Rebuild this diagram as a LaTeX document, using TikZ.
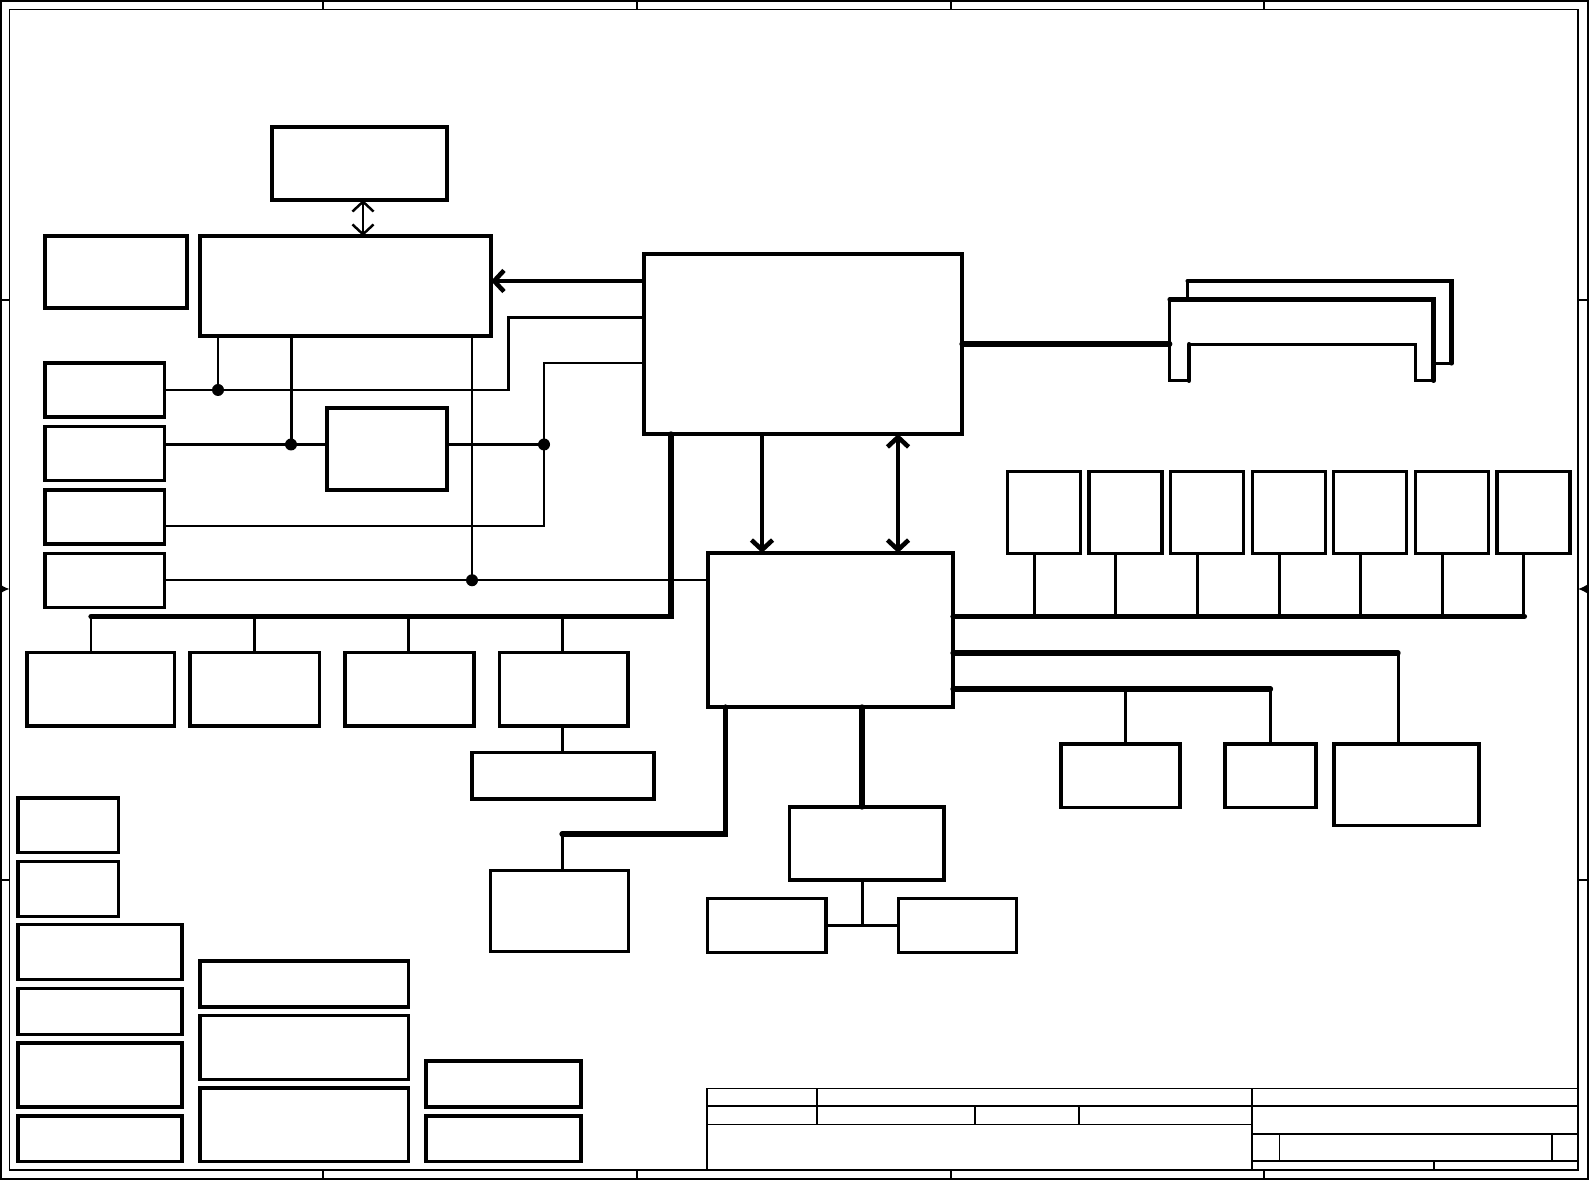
\documentclass[tikz,border=0pt]{standalone}
\usetikzlibrary{arrows.meta}
\begin{document}
\begin{tikzpicture}[x=0.01cm,y=-0.01cm,
  blk/.style 2 args={draw,line width=0.9pt,inner sep=0pt,outer sep=0pt,
    minimum width=#1*0.01cm,minimum height=#2*0.01cm},
  frm/.style={line width=0.45pt},
  wire/.style={line width=0.7pt},
  mwire/.style={line width=0.85pt},
  rail/.style={line width=1.3pt,line cap=round},
  bus/.style={line width=1.5pt,line cap=round},
  barb/.style={line width=1.3pt},
  >={Straight Barb[length=2.8pt,width=6pt]}]
  \useasboundingbox (0,0) rectangle (1589,1180);
  \draw[frm] (1,1) rectangle (1588,1179);
  \draw[frm] (9.5,9.5) rectangle (1578,1170);
  \foreach \x in {323,637,951,1264}{
    \draw[frm] (\x,1) -- (\x,9.5);
    \draw[frm] (\x,1170) -- (\x,1179);}
  \foreach \y in {300,880}{
    \draw[frm] (1,\y) -- (9.5,\y);
    \draw[frm] (1578,\y) -- (1588,\y);}
  \draw[frm,-{Latex[length=3pt,width=3pt]}] (1,589) -- (9.5,589);
  \draw[frm,-{Latex[length=3pt,width=3pt]}] (1588,589) -- (1578,589);
  \draw[frm] (707,1088.3) -- (1578,1088.3);
  \draw[frm] (707,1106) -- (1578,1106);
  \draw[frm] (707,1124.3) -- (1252,1124.3);
  \draw[frm] (707,1088.3) -- (707,1170);
  \draw[frm] (1252,1088.3) -- (1252,1170);
  \draw[frm] (816.7,1088.3) -- (816.7,1124.3);
  \draw[frm] (975,1106) -- (975,1124.3);
  \draw[frm] (1078.8,1106) -- (1078.8,1124.3);
  \draw[frm] (1252,1133.7) -- (1578,1133.7);
  \draw[frm] (1252,1160.7) -- (1578,1160.7);
  \draw[frm] (1279.5,1133.7) -- (1279.5,1160.7);
  \draw[frm] (1551.8,1133.7) -- (1551.8,1160.7);
  \draw[frm] (1433.7,1160.7) -- (1433.7,1170);

  \node[blk={175}{73}] (clk) at (359.5,163.5) {};
  \node[blk={291}{100}] (cpu) at (345.5,286) {};
  \node[blk={142}{72}] (therm) at (116,272) {};
  \foreach \n/\y in {pw1/390,pw2/453.5,pw3/517,pw4/580.25}
    \node[blk={119.5}{54}] (\n) at (104.75,\y) {};
  \node[blk={120}{82}] (fan) at (387,449) {};
  \node[blk={318}{180}] (nb) at (803,344) {};
  \node[blk={245}{154}] (sb) at (830.5,630) {};
  \foreach \n/\x/\w in {gpu/100.75/147.5,lan/254.75/129.5,card/409.5/129,mini/563.75/128.5}
    \node[blk={\w}{73.5}] (\n) at (\x,689.25) {};
  \node[blk={182}{46.5}] (slot) at (563,775.75) {};
  \foreach \i in {1,...,7}
    \node[blk={73}{82}] (usb\i) at ({1043.8+81.6*(\i-1)},512.5) {};
  \node[blk={119}{63.5}] (audio) at (1120.5,775.75) {};
  \node[blk={91}{63.5}] (sata) at (1270.5,775.75) {};
  \node[blk={145}{81.5}] (ide) at (1406.5,784.75) {};
  \node[blk={138}{81}] (kbc) at (559.4,911) {};
  \node[blk={154.7}{73}] (codec) at (866.65,843.5) {};
  \node[blk={118.3}{54}] (amp) at (766.85,925.5) {};
  \node[blk={118.3}{54}] (jack) at (957.45,925.5) {};
  \foreach \n/\x/\y/\w/\h in {m1/68.35/825.25/100.7/54.5,m2/68.35/889/100.7/55,
      m3/100/952/164/55,m4/100/1011.5/164/46,m5/100/1075/164/64,m6/100/1138.75/164/45.5,
      m7/304.35/984/208.7/46,m8/304.35/1047.5/208.7/64,m9/304.35/1124.65/208.7/73.3,
      m10/503.5/1084/155/46,m11/503.5/1138.75/155/45.5}
    \node[blk={\w}{\h}] (\n) at (\x,\y) {};

  \draw[wire,<->] (clk.south) ++(3.5,0) -- ++(0,36);
  \draw[barb,->] (nb.west |- 0,281) -- (cpu.east |- 0,281);
  \draw[wire] (nb.west |- 0,317.5) -| (508.5,390) -- (pw1.east);
  \draw[wire] (cpu.south -| 218,0) -- (218,390);
  \fill (218,390) circle[radius=0.06cm];
  \draw[wire] (nb.west |- 0,363) -| (544,526) -- (pw3.east |- 0,526);
  \draw[mwire] (pw2.east |- 0,444.5) -- (fan.west |- 0,444.5);
  \draw[mwire] (fan.east |- 0,444.5) -- (544,444.5);
  \draw[mwire] (cpu.south -| 291,0) -- (291,444.5);
  \fill (291,444.5) circle[radius=0.06cm];
  \fill (544,444.5) circle[radius=0.06cm];
  \draw[wire] (cpu.south -| 472,0) -- (472,580.25);
  \draw[wire] (pw4.east) -- (sb.west |- pw4.east);
  \fill (472,580.25) circle[radius=0.06cm];
  \draw[bus] (nb.south -| 671,0) |- (91,616.5);
  \foreach \n/\x in {gpu/91,lan/254,card/408,mini/562.5}
    \draw[mwire] (\x,616.5) -- (\n.north -| \x,0);
  \draw[mwire] (mini.south -| 562.5,0) -- (slot.north -| 562.5,0);
  \draw[barb,->] (nb.south -| 762,0) -- (sb.north -| 762,0);
  \draw[barb,<->] (nb.south -| 898,0) -- (sb.north -| 898,0);
  \coordinate (dimm) at (1169.7,344);
  \draw[bus] (nb.east) -- (dimm);
  \draw[wire] (1187.7,299.3) -- (1187.7,281);
  \draw[rail] (1187.7,281) -- (1451.7,281) -- (1451.7,363.3);
  \draw[wire] (1451.7,363.3) -- (1435.7,363.3);
  \draw[rail] (1169.7,299.3) -- (1433.7,299.3) -- (1433.7,380.7);
  \draw[wire] (1169.7,299.3) -- (1169.7,380.7) -- (1189,380.7);
  \draw[rail] (1189,380.7) -- (1189,344.3);
  \draw[wire] (1189,344.3) -- (1415.3,344.3) -- (1415.3,380.7) -- (1433.7,380.7);
  \draw[bus] (sb.east |- 0,616.5) -- (1524.4,616.5);
  \foreach \i in {1,...,7}
    \draw[mwire] ([xshift=-0.095cm]usb\i.south) -- ++(0,63);
  \draw[bus] (sb.east |- 0,653) -- (1398,653);
  \draw[mwire] (1398,653) -- (ide.north -| 1398,0);
  \draw[bus] (sb.east |- 0,689) -- (1270.5,689);
  \draw[mwire] (1270.5,689) -- (sata.north);
  \draw[mwire] (1125,689) -- (audio.north -| 1125,0);
  \draw[bus] (sb.south -| 725.7,0) |- (562,834);
  \draw[mwire] (562,834) -- (kbc.north -| 562,0);
  \draw[bus] (sb.south -| 862,0) -- (codec.north -| 862,0);
  \draw[mwire] (codec.south -| 862,0) -- (862,925.5);
  \draw[mwire] (amp.east) -- (jack.west);
\end{tikzpicture}
\end{document}
